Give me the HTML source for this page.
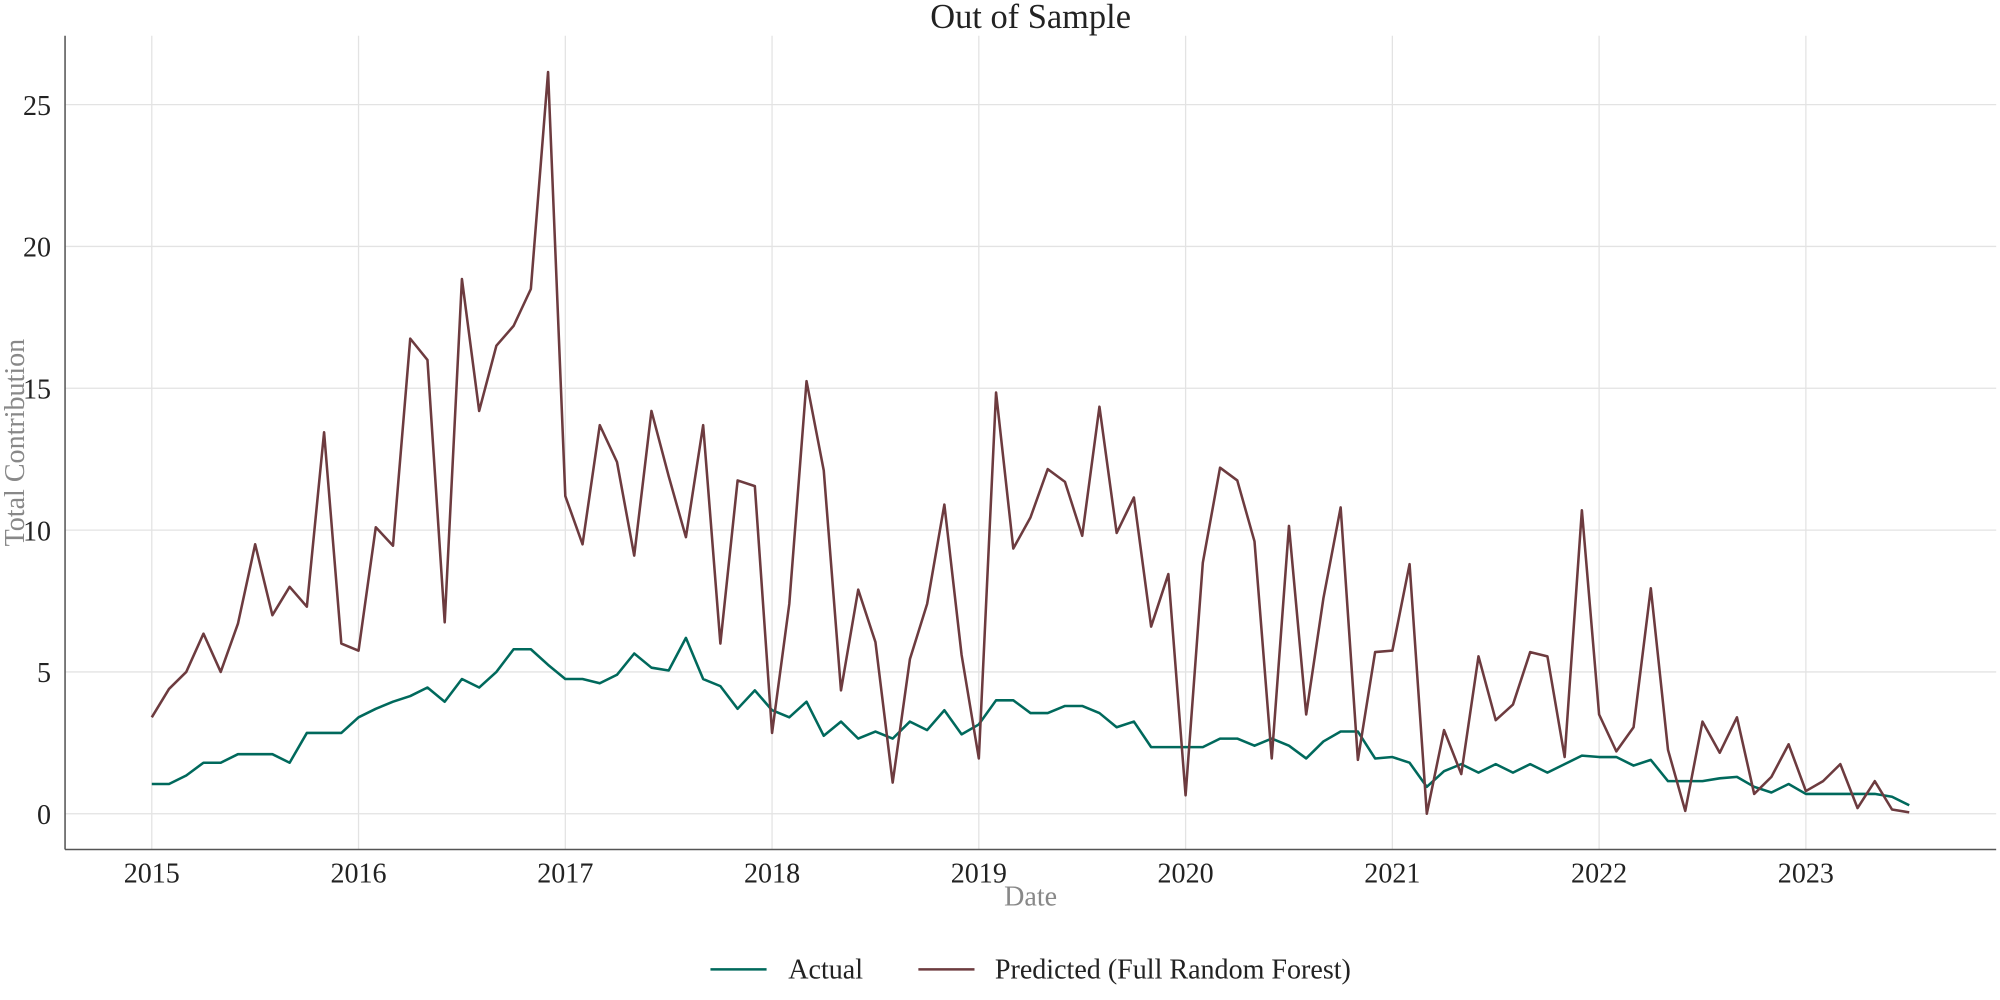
<!DOCTYPE html>
<html><head><meta charset="utf-8"><style>
body{margin:0;background:#fff}
svg{display:block}
svg text{font-family:"Liberation Serif",serif;fill:#222}
</style></head><body>
<svg width="2000" height="1000" viewBox="0 0 1568 784" xmlns="http://www.w3.org/2000/svg">
<g id="grid"></g>
<g id="series"></g>
<line x1="51" y1="28" x2="51" y2="666" stroke="#555" stroke-width="1.2"/>
<line x1="51" y1="666" x2="1565" y2="666" stroke="#555" stroke-width="1.2"/>
<g id="ticks"></g>
<text x="808" y="22" font-size="27" text-anchor="middle">Out of Sample</text>
<text x="808" y="710" font-size="22" text-anchor="middle" style="fill:#888">Date</text>
<text transform="translate(19,347) rotate(-90)" font-size="22" text-anchor="middle" style="fill:#888">Total Contribution</text>
<g>
<line x1="557" y1="760" x2="601" y2="760" stroke="#00695c" stroke-width="2"/>
<text x="618" y="767" font-size="22">Actual</text>
<line x1="720" y1="760" x2="764" y2="760" stroke="#6d3b3f" stroke-width="2"/>
<text x="780" y="767" font-size="22">Predicted (Full Random Forest)</text>
</g>
</svg>
<script>
const years=[2015,2016,2017,2018,2019,2020,2021,2022,2023];
const yTicks=[0,5,10,15,20,25];
const actual=[1.05,1.05,1.35,1.8,1.8,2.1,2.1,2.1,1.8,2.85,2.85,2.85,
3.4,3.7,3.95,4.15,4.45,3.95,4.75,4.45,5.0,5.8,5.8,5.25,
4.75,4.75,4.6,4.9,5.65,5.15,5.05,6.2,4.75,4.5,3.7,4.35,
3.65,3.4,3.95,2.75,3.25,2.65,2.9,2.65,3.25,2.95,3.65,2.8,
3.15,4.0,4.0,3.55,3.55,3.8,3.8,3.55,3.05,3.25,2.35,2.35,
2.35,2.35,2.65,2.65,2.4,2.65,2.4,1.95,2.55,2.9,2.9,1.95,
2.0,1.8,0.95,1.5,1.75,1.45,1.75,1.45,1.75,1.45,1.75,2.05,
2.0,2.0,1.7,1.9,1.15,1.15,1.15,1.25,1.3,0.95,0.75,1.05,
0.7,0.7,0.7,0.7,0.7,0.6,0.3];
const predicted=[3.4,4.4,5.0,6.35,5.0,6.7,9.5,7.0,8.0,7.3,13.45,6.0,
5.75,10.1,9.45,16.75,16.0,6.75,18.85,14.2,16.5,17.2,18.5,26.15,
11.2,9.5,13.7,12.4,9.1,14.2,11.9,9.75,13.7,6.0,11.75,11.55,
2.85,7.4,15.25,12.1,4.35,7.9,6.05,1.1,5.45,7.4,10.9,5.6,
1.95,14.85,9.35,10.45,12.15,11.7,9.8,14.35,9.9,11.15,6.6,8.45,
0.65,8.85,12.2,11.75,9.6,1.95,10.15,3.5,7.6,10.8,1.9,5.7,
5.75,8.8,0.0,2.95,1.4,5.55,3.3,3.85,5.7,5.55,2.0,10.7,
3.5,2.2,3.05,7.95,2.25,0.1,3.25,2.15,3.4,0.7,1.3,2.45,
0.8,1.15,1.75,0.2,1.15,0.15,0.05];
const NS='http://www.w3.org/2000/svg';
const xm=i=>119+i*(162.1/12);
const xy=y=>119+(y-2015)*162.1;
const ys=v=>638-v*22.24;
const grid=document.getElementById('grid'),ticks=document.getElementById('ticks'),ser=document.getElementById('series');
function mk(t,a,p){const e=document.createElementNS(NS,t);for(const k in a)e.setAttribute(k,a[k]);p.appendChild(e);return e;}
years.forEach(y=>{
 const l=mk('line',{x1:xy(y),x2:xy(y),y1:28,y2:666,stroke:'#e3e3e3','stroke-width':1},grid);
 
 
 const t=mk('text',{x:xy(y),y:692,'font-size':22,'text-anchor':'middle'},ticks);
 t.textContent=y;
 
 
});
yTicks.forEach(v=>{
 const l=mk('line',{x1:51,x2:1565,y1:ys(v),y2:ys(v),stroke:'#e3e3e3','stroke-width':1},grid);
 
 
 const t=mk('text',{x:40,y:ys(v)+8,'font-size':22,'text-anchor':'end'},ticks);
 t.textContent=v;
 
 
});
function line(d,c,n){
 const p=mk('polyline',{points:d.map((v,i)=>xm(i)+','+ys(v)).join(' '),fill:'none',stroke:c,'stroke-width':2,'stroke-linejoin':'round'},ser);
 
 
}
line(actual,'#00695c','actual-line');
line(predicted,'#6d3b3f','predicted-line');
</script>
</body></html>
